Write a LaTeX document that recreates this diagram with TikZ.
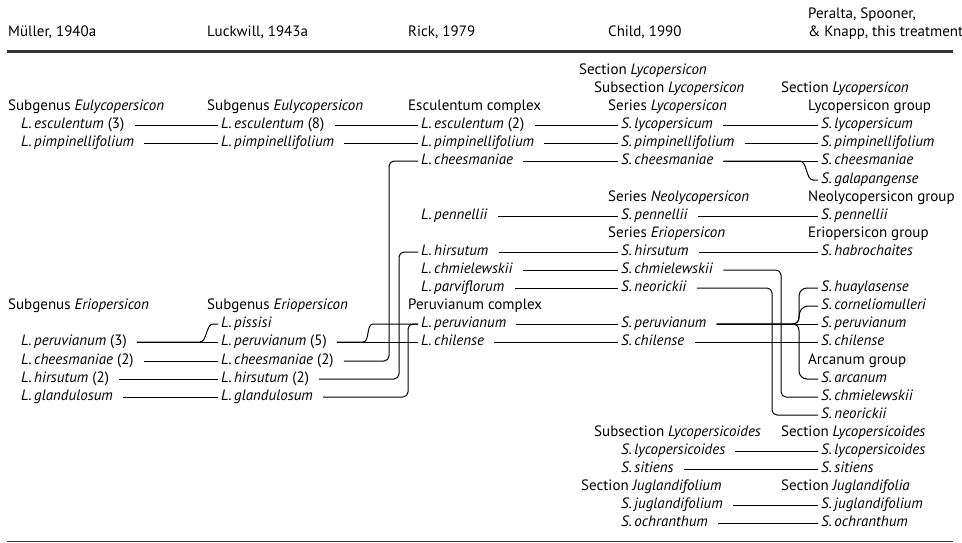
\documentclass[tikz,border=0pt]{standalone}
\usepackage{xcolor}
\usepackage{fontspec}
\setmainfont{PT Sans}
\usepackage{tikz}
\usetikzlibrary{positioning}
\usetikzlibrary{calc}

\newcommand{\taxon}[1]{\textit{#1}}

\begin{document}
\begin{tikzpicture}
    [%%%%%%%%%%%%%%%%%%%%%%%%%%%%%%
        x=1pt, y=-1pt,
        lbl/.style={anchor=west, inner sep=0pt, text height=10pt, text depth=3pt, font=\fontsize{15}{17}\selectfont},
        link/.style={line width=1pt, shorten <=10pt, shorten >=3pt},
        elbow/.style={link, rounded corners=5pt},
        rule/.style={draw=rulegray}
    ]%%%%%%%%%%%%%%%%%%%%%%%%%%%%%%
\definecolor{rulegray}{rgb}{0.2, 0.2, 0.2}
\useasboundingbox (0,0) rectangle (962,543);

\node[lbl] (h-mu) at (8,33) {Müller, 1940a};
\node[lbl] (h-lu) at (207,33) {Luckwill, 1943a};
\node[lbl] (h-ri) at (408,33) {Rick, 1979};
\node[lbl] (h-ch) at (608,33) {Child, 1990};
\node[lbl] (h-pe1) at (808,15) {Peralta, Spooner,};
\node[lbl] (h-pe2) at (808,33) {\& Knapp, this treatment};

\draw[rule, line width=3pt] (7,52) -- (953,52);
\draw[rule, line width=1.3pt] (7,541.5) -- (953,541.5);

\node[lbl] (mu-eul) at (8,107) {Subgenus \taxon{Eulycopersicon}};
\node[lbl] (mu-escu) at (21,125) {\taxon{L.\,esculentum} (3)};
\node[lbl] (mu-pimp) at (21,143) {\taxon{L.\,pimpinellifolium}};
\node[lbl] (mu-eri) at (8,306) {Subgenus \taxon{Eriopersicon}};
\node[lbl] (mu-peru) at (21,342) {\taxon{L.\,peruvianum} (3)};
\node[lbl] (mu-chee) at (21,361) {\taxon{L.\,cheesmaniae} (2)};
\node[lbl] (mu-hirs) at (21,379) {\taxon{L.\,hirsutum} (2)};
\node[lbl] (mu-glan) at (21,397) {\taxon{L.\,glandulosum}};

\node[lbl] (lu-eul) at (207,107) {Subgenus \taxon{Eulycopersicon}};
\node[lbl] (lu-escu) at (221,125) {\taxon{L.\,esculentum} (8)};
\node[lbl] (lu-pimp) at (221,143) {\taxon{L.\,pimpinellifolium}};
\node[lbl] (lu-eri) at (207,306) {Subgenus \taxon{Eriopersicon}};
\node[lbl] (lu-piss) at (221,324) {\taxon{L.\,pissisi}};
\node[lbl] (lu-peru) at (221,342) {\taxon{L.\,peruvianum} (5)};
\node[lbl] (lu-chee) at (221,361) {\taxon{L.\,cheesmaniae} (2)};
\node[lbl] (lu-hirs) at (221,379) {\taxon{L.\,hirsutum} (2)};
\node[lbl] (lu-glan) at (221,397) {\taxon{L.\,glandulosum}};

\node[lbl] (ri-escgrp) at (408,107) {Esculentum complex};
\node[lbl] (ri-escu) at (421,125) {\taxon{L.\,esculentum} (2)};
\node[lbl] (ri-pimp) at (421,143) {\taxon{L.\,pimpinellifolium}};
\node[lbl] (ri-chee) at (421,161) {\taxon{L.\,cheesmaniae}};
\node[lbl] (ri-penn) at (421,216) {\taxon{L.\,pennellii}};
\node[lbl] (ri-hirs) at (421,252) {\taxon{L.\,hirsutum}};
\node[lbl] (ri-chmi) at (421,270) {\taxon{L.\,chmielewskii}};
\node[lbl] (ri-parv) at (421,288) {\taxon{L.\,parviflorum}};
\node[lbl] (ri-pergrp) at (408,306) {Peruvianum complex};
\node[lbl] (ri-peru) at (421,324) {\taxon{L.\,peruvianum}};
\node[lbl] (ri-chil) at (421,342) {\taxon{L.\,chilense}};

\node[lbl] (ch-sec) at (579,71) {Section \taxon{Lycopersicon}};
\node[lbl] (ch-subsec) at (594,89) {Subsection \taxon{Lycopersicon}};
\node[lbl] (ch-ser) at (608,107) {Series \taxon{Lycopersicon}};
\node[lbl] (ch-lyco) at (621,125) {\taxon{S.\,lycopersicum}};
\node[lbl] (ch-pimp) at (621,143) {\taxon{S.\,pimpinellifolium}};
\node[lbl] (ch-chee) at (621,161) {\taxon{S.\,cheesmaniae}};
\node[lbl] (ch-neo) at (608,198) {Series \taxon{Neolycopersicon}};
\node[lbl] (ch-penn) at (621,216) {\taxon{S.\,pennellii}};
\node[lbl] (ch-eri) at (608,234) {Series \taxon{Eriopersicon}};
\node[lbl] (ch-hirs) at (621,252) {\taxon{S.\,hirsutum}};
\node[lbl] (ch-chmi) at (621,270) {\taxon{S.\,chmielewskii}};
\node[lbl] (ch-neor) at (621,288) {\taxon{S.\,neorickii}};
\node[lbl] (ch-peru) at (621,324) {\taxon{S.\,peruvianum}};
\node[lbl] (ch-chil) at (621,342) {\taxon{S.\,chilense}};
\node[lbl] (ch-subsoid) at (594,433) {Subsection \taxon{Lycopersicoides}};
\node[lbl] (ch-lsoid) at (621,451) {\taxon{S.\,lycopersicoides}};
\node[lbl] (ch-siti) at (621,469) {\taxon{S.\,sitiens}};
\node[lbl] (ch-jugsec) at (581,487) {Section \taxon{Juglandifolium}};
\node[lbl] (ch-jugl) at (621,505) {\taxon{S.\,juglandifolium}};
\node[lbl] (ch-ochr) at (621,523) {\taxon{S.\,ochranthum}};

\node[lbl] (pe-sec) at (781,89) {Section \taxon{Lycopersicon}};
\node[lbl] (pe-lycgrp) at (808,107) {Lycopersicon group};
\node[lbl] (pe-lyco) at (821,125) {\taxon{S.\,lycopersicum}};
\node[lbl] (pe-pimp) at (821,143) {\taxon{S.\,pimpinellifolium}};
\node[lbl] (pe-chee) at (821,161) {\taxon{S.\,cheesmaniae}};
\node[lbl] (pe-gala) at (821,180) {\taxon{S.\,galapangense}};
\node[lbl] (pe-neogrp) at (808,198) {Neolycopersicon group};
\node[lbl] (pe-penn) at (821,216) {\taxon{S.\,pennellii}};
\node[lbl] (pe-erigrp) at (808,234) {Eriopersicon group};
\node[lbl] (pe-habr) at (821,252) {\taxon{S.\,habrochaites}};
\node[lbl] (pe-huay) at (821,288) {\taxon{S.\,huaylasense}};
\node[lbl] (pe-corn) at (821,306) {\taxon{S.\,corneliomulleri}};
\node[lbl] (pe-peru) at (821,324) {\taxon{S.\,peruvianum}};
\node[lbl] (pe-chil) at (821,342) {\taxon{S.\,chilense}};
\node[lbl] (pe-arcgrp) at (808,361) {Arcanum group};
\node[lbl] (pe-arca) at (821,379) {\taxon{S.\,arcanum}};
\node[lbl] (pe-chmi) at (821,397) {\taxon{S.\,chmielewskii}};
\node[lbl] (pe-neor) at (821,415) {\taxon{S.\,neorickii}};
\node[lbl] (pe-secoid) at (781,433) {Section \taxon{Lycopersicoides}};
\node[lbl] (pe-lsoid) at (821,451) {\taxon{S.\,lycopersicoides}};
\node[lbl] (pe-siti) at (821,469) {\taxon{S.\,sitiens}};
\node[lbl] (pe-jugsec) at (781,487) {Section \taxon{Juglandifolia}};
\node[lbl] (pe-jugl) at (821,505) {\taxon{S.\,juglandifolium}};
\node[lbl] (pe-ochr) at (821,523) {\taxon{S.\,ochranthum}};

\foreach \a/\b in {mu-escu/lu-escu, mu-pimp/lu-pimp, mu-peru/lu-peru, mu-chee/lu-chee,
    mu-hirs/lu-hirs, mu-glan/lu-glan, lu-escu/ri-escu, lu-pimp/ri-pimp, lu-peru/ri-chil,
    ri-escu/ch-lyco, ri-pimp/ch-pimp, ri-chee/ch-chee, ri-penn/ch-penn, ri-hirs/ch-hirs,
    ri-chmi/ch-chmi, ri-parv/ch-neor, ri-peru/ch-peru, ri-chil/ch-chil,
    ch-lyco/pe-lyco, ch-pimp/pe-pimp, ch-chee/pe-chee, ch-penn/pe-penn, ch-hirs/pe-habr,
    ch-peru/pe-peru, ch-chil/pe-chil, ch-lsoid/pe-lsoid, ch-siti/pe-siti,
    ch-jugl/pe-jugl, ch-ochr/pe-ochr}
    \draw[link] (\a.east) -- (\b.west);

\draw[link] (mu-peru.east) -- ([xshift=-21pt]lu-peru.west)
    .. controls ([xshift=-14pt]lu-peru.west) and ([xshift=-15pt]lu-piss.west)
    .. ([xshift=-8pt]lu-piss.west) -- (lu-piss.west);
\draw[link] (lu-peru.east) -- ([xshift=-58pt]ri-chil.west)
    .. controls ([xshift=-51pt]ri-chil.west) and ([xshift=-55pt]ri-peru.west)
    .. ([xshift=-48pt]ri-peru.west) -- (ri-peru.west);
\draw[link] (ch-chee.east) -- ([xshift=-21pt]pe-chee.west)
    .. controls ([xshift=-14pt]pe-chee.west) and ([xshift=-15pt]pe-gala.west)
    .. ([xshift=-8pt]pe-gala.west) -- (pe-gala.west);

\draw[elbow] (lu-chee.east) -| ([xshift=-32pt]ri-chee.west) -- (ri-chee.west);
\draw[elbow] (lu-hirs.east) -| ([xshift=-22pt]ri-hirs.west) -- (ri-hirs.west);
\draw[elbow] (lu-glan.east) -| ([xshift=-13pt]ri-peru.west) -- (ri-peru.west);
\draw[elbow] (ch-chmi.east) -| ([xshift=-40pt]pe-chmi.west) -- (pe-chmi.west);
\draw[elbow] (ch-neor.east) -| ([xshift=-49pt]pe-neor.west) -- (pe-neor.west);

\coordinate (tip) at ([xshift=-29pt]pe-peru.west);
\draw[link] (ch-peru.east) -- (tip)
    .. controls ([xshift=-24pt]pe-peru.west) and ([xshift=-22pt,yshift=3pt]pe-peru.west)
    .. ([xshift=-22pt,yshift=7pt]pe-peru.west)
    [rounded corners=8pt] -- ([xshift=-22pt]pe-huay.west) -- (pe-huay.west);
\draw[link] (ch-peru.east) -- (tip)
    .. controls ([xshift=-24pt]pe-peru.west) and ([xshift=-22pt,yshift=-3pt]pe-peru.west)
    .. ([xshift=-22pt,yshift=-7pt]pe-peru.west)
    [rounded corners=8pt] -- ([xshift=-22pt]pe-arca.west) -- (pe-arca.west);
\draw[link] (ch-peru.east) -- (tip)
    .. controls ([xshift=-24pt]pe-peru.west) and ([xshift=-22pt,yshift=3pt]pe-peru.west)
    .. ([xshift=-22pt,yshift=7pt]pe-peru.west)
    .. controls ([xshift=-22pt,yshift=13pt]pe-peru.west) and ([xshift=-19pt]pe-corn.west)
    .. ([xshift=-12pt]pe-corn.west) -- (pe-corn.west);

\end{tikzpicture}
\end{document}
